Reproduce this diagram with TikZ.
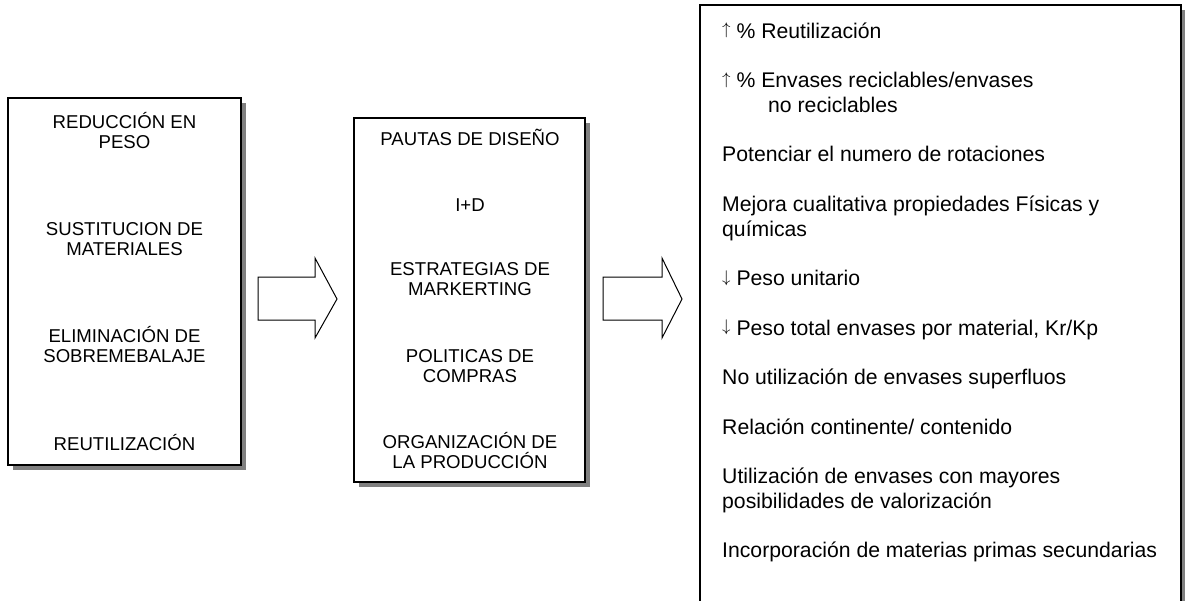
\documentclass[tikz,border=0pt]{standalone}
\usepackage{fontspec}
\setmainfont{Liberation Sans}
\newcommand\cblock[2]{\vtop{\hsize=#1\relax\parindent=0pt\parskip=0pt\centering\baselineskip=20pt\relax #2\par}}
\newcommand\uparr{\resizebox{!}{15pt}{\raisebox{\depth}{$\uparrow$}}}
\newcommand\downarr{\resizebox{!}{15pt}{\raisebox{\depth}{$\downarrow$}}}
\begin{document}
\begin{tikzpicture}[x=1pt,y=-1pt,
  panel/.style={draw=black, line width=1.6pt, fill=white},
  shadowbox/.style={fill=black!50},
  blockarrow/.style={draw=black, line width=1pt, fill=white, line join=miter},
  smalltxt/.style={inner sep=0pt, font=\fontsize{18.6}{20}\selectfont, anchor=base},
  bigtxt/.style={inner sep=0pt, font=\fontsize{21.2}{24.75}\selectfont, anchor=base west}]
\useasboundingbox (0,0) rectangle (1185,600);
\clip (0,0) rectangle (1185,600);
% left box
\fill[shadowbox] (13,103) rectangle (246,470);
\draw[panel] (8,98) rectangle (241,465);
% middle box
\fill[shadowbox] (359,123) rectangle (590,487);
\draw[panel] (354,118) rectangle (585,482);
% right box
\fill[shadowbox] (705,10) rectangle (1186,620);
\draw[panel] (700,5) rectangle (1181,615);
% block arrows
\draw[blockarrow] (258,277) -- (315,277) -- (315,258) -- (337,299) -- (315,338) -- (315,320) -- (258,320) -- cycle;
\draw[blockarrow] (603,277) -- (662,277) -- (662,258) -- (682,299) -- (662,338) -- (662,320) -- (603,320) -- cycle;
% left texts
\node[smalltxt] (l1) at (124.5,128) {\cblock{220pt}{REDUCCIÓN EN\\PESO}};
\node[smalltxt] (l2) at (124.5,235) {\cblock{220pt}{SUSTITUCION DE\\MATERIALES}};
\node[smalltxt] (l3) at (124.5,342) {\cblock{220pt}{ELIMINACIÓN DE\\SOBREMEBALAJE}};
\node[smalltxt] (l4) at (124.5,450) {\cblock{220pt}{REUTILIZACIÓN}};
% middle texts
\node[smalltxt] (m1) at (470,145) {\cblock{226pt}{PAUTAS DE DISEÑO}};
\node[smalltxt] (m2) at (470,211) {\cblock{226pt}{I+D}};
\node[smalltxt] (m3) at (470,275) {\cblock{226pt}{ESTRATEGIAS DE\\MARKERTING}};
\node[smalltxt] (m4) at (470,362) {\cblock{226pt}{POLITICAS DE\\COMPRAS}};
\node[smalltxt] (m5) at (470,448) {\cblock{226pt}{ORGANIZACIÓN DE\\LA PRODUCCIÓN}};
% right texts
\node[bigtxt] (r) at (722,38) {\vtop{\hsize=455pt\parindent=0pt\parskip=0pt\raggedright\baselineskip=24.75pt\relax
\uparr{} \% Reutilización\par\vskip24.75pt
\uparr{} \% Envases reciclables/envases\\\hspace*{46pt}no reciclables\par\vskip24.75pt
Potenciar el numero de rotaciones\par\vskip24.75pt
Mejora cualitativa propiedades Físicas y\\químicas\par\vskip24.75pt
\downarr{} Peso unitario\par\vskip24.75pt
\downarr{} Peso total envases por material, Kr/Kp\par\vskip24.75pt
No utilización de envases superfluos\par\vskip24.75pt
Relación continente/ contenido\par\vskip24.75pt
Utilización de envases con mayores\\posibilidades de valorización\par\vskip24.75pt
Incorporación de materias primas secundarias\par}};
\end{tikzpicture}
\end{document}
